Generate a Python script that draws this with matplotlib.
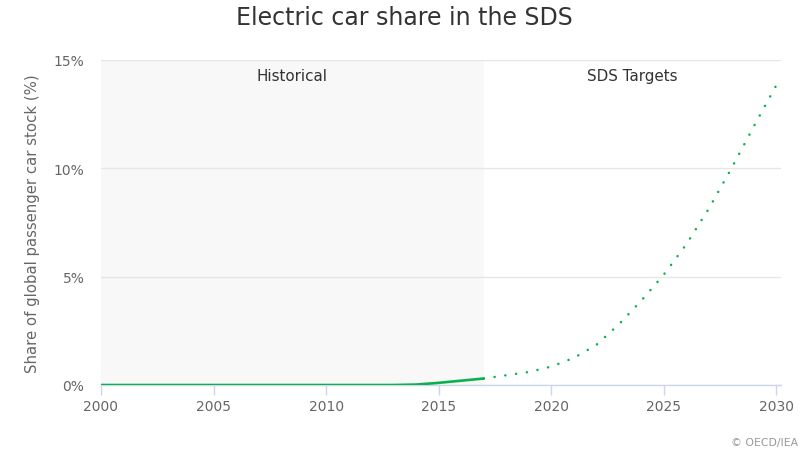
import matplotlib.pyplot as plt
from matplotlib.ticker import FuncFormatter

# Historical stock share (%)
hist_years = [2000, 2001, 2002, 2003, 2004, 2005, 2006, 2007, 2008, 2009,
              2010, 2011, 2012, 2013, 2014, 2015, 2016, 2017]
hist_share = [0.0, 0.0, 0.0, 0.0, 0.0, 0.0, 0.0, 0.0, 0.0, 0.0,
              0.0, 0.0, 0.0, 0.0, 0.02, 0.1, 0.2, 0.3]

# SDS target trajectory (%)
sds_years = [2017, 2018, 2019, 2020, 2021, 2022, 2023, 2024, 2025, 2026,
             2027, 2028, 2029, 2030]
sds_share = [0.3, 0.45, 0.6, 0.85, 1.25, 1.85, 2.8, 3.9, 5.1, 6.5,
             8.15, 10.0, 11.95, 13.85]

y_ticks = [0, 5, 10, 15]
x_ticks = [2000, 2005, 2010, 2015, 2020, 2025, 2030]

green = '#0ab14f'
grey_text = '#666666'

fig = plt.figure(figsize=(8.08, 4.52), dpi=100)
ax = fig.add_axes([101 / 808, 1 - 386 / 452, (781 - 101) / 808, (386 - 61) / 452])

# Historical band
ax.axvspan(2000, 2017, color='#f8f8f8', zorder=0, lw=0)

ax.plot(hist_years, hist_share, color=green, lw=1.9, solid_capstyle='round', zorder=3)
ax.plot(sds_years, sds_share, color=green, lw=1.8, linestyle=(0, (0.05, 4.3)),
        dash_capstyle='round', zorder=3)

ax.set_xlim(2000, 2030.2)
ax.set_ylim(0, 15)
ax.set_xticks(x_ticks)
ax.set_yticks(y_ticks)
ax.yaxis.set_major_formatter(FuncFormatter(lambda v, p: f'{v:.0f}%'))

ax.grid(axis='y', color='#e6e6e6', lw=1)
ax.set_axisbelow(True)
for side in ['top', 'right', 'left']:
    ax.spines[side].set_visible(False)
ax.spines['bottom'].set_color('#ccd6eb')
ax.spines['bottom'].set_linewidth(1)
ax.tick_params(axis='x', colors='#ccd6eb', length=7, width=1, labelcolor=grey_text,
               labelsize=10, pad=3)
ax.tick_params(axis='y', length=0, labelcolor=grey_text, labelsize=10, pad=12)

ax.set_ylabel('Share of global passenger car stock (%)', color=grey_text, fontsize=10.7,
              labelpad=10)

ax.text(2008.5, 14.3, 'Historical', ha='center', va='center', fontsize=10.9, color='#333333')
ax.text(2023.6, 14.3, 'SDS Targets', ha='center', va='center', fontsize=10.9, color='#333333')

fig.text(0.5, 1 - 18 / 452, 'Electric car share in the SDS', ha='center', va='center',
         fontsize=17, color='#333333')
fig.text(798 / 808, 1 - 443 / 452, '\u00a9 OECD/IEA', ha='right', va='center',
         fontsize=7.8, color='#999999')

fig.savefig('out.png', dpi=100)
